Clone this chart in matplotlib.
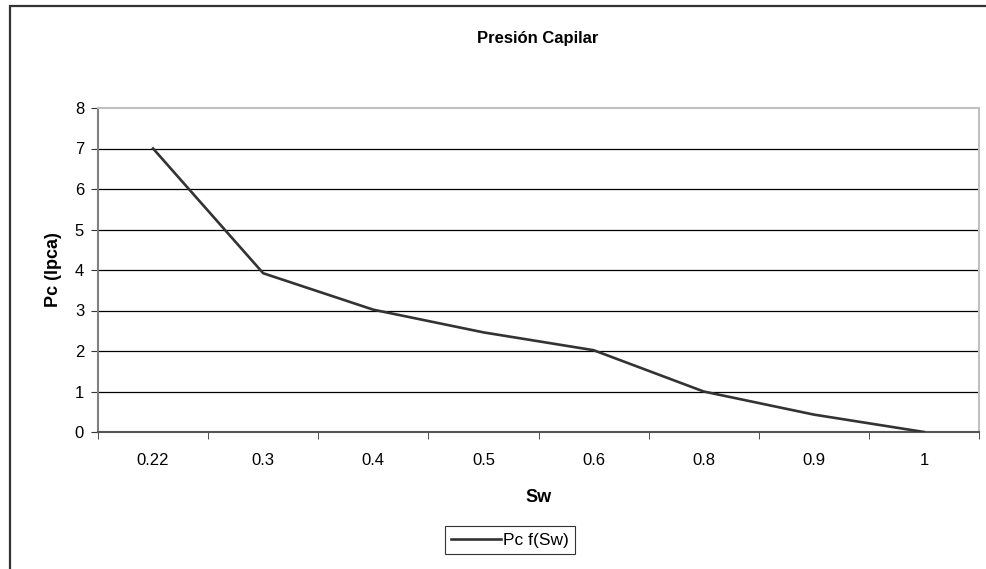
import numpy as np
from matplotlib import pylab as plt
from matplotlib.patches import Rectangle

sw_labels = ["0.22", "0.3", "0.4", "0.5", "0.6", "0.8", "0.9", "1"]
pc_values = [7.0, 3.92, 3.02, 2.46, 2.02, 1.0, 0.43, 0.0]
y_ticks = [0, 1, 2, 3, 4, 5, 6, 7, 8]

plt.rcParams['font.family'] = ['Liberation Sans', 'DejaVu Sans']

fig = plt.figure(figsize=(9.87, 5.69), dpi=100)
ax = fig.add_axes([98 / 987, 1 - 432 / 569, 881 / 987, 324 / 569])

x = np.arange(len(sw_labels))
ax.plot(x, pc_values, color='#333333', lw=1.9, label='Pc f(Sw)', zorder=3)

ax.set_xlim(-0.5, len(sw_labels) - 0.5)
ax.set_ylim(0, 8)
ax.set_yticks(y_ticks)
ax.set_xticks(x)
ax.set_xticklabels(sw_labels)
ax.set_xticks(np.arange(-0.5, len(sw_labels)), minor=True)
ax.tick_params(axis='x', which='major', length=0, pad=15, labelsize=12)
ax.tick_params(axis='x', which='minor', length=5, direction='out', color='#333333')
ax.tick_params(axis='y', length=5, direction='out', color='#333333', labelsize=12, pad=5)

for v in y_ticks[1:-1]:
    ax.axhline(v, color='black', lw=0.9, zorder=1)

ax.spines['left'].set_color('#808080')
ax.spines['bottom'].set_color('#555555')
ax.spines['top'].set_color('#c0c0c0')
ax.spines['right'].set_color('#c0c0c0')
for s in ax.spines.values():
    s.set_linewidth(1.5)

ax.set_xlabel("Sw", fontsize=13, fontweight='bold', labelpad=15)
ax.set_ylabel("Pc (lpca)", fontsize=13, fontweight='bold', labelpad=9)
fig.text(538 / 987, 1 - 38 / 569, "Presión Capilar", ha='center', va='center',
         fontsize=12, fontweight='bold')

leg = ax.legend(loc='center', bbox_to_anchor=(510 / 987, 1 - 540 / 569),
                bbox_transform=fig.transFigure, frameon=True, fancybox=False,
                fontsize=12.5, handlelength=2.9, handletextpad=0.1,
                borderpad=0.35, borderaxespad=0)
leg.get_frame().set_edgecolor('black')
leg.get_frame().set_linewidth(0.8)

fig.patches.append(Rectangle((9.5 / 987, -0.1), 1.2, 1.1 - 6 / 569,
                             transform=fig.transFigure, fill=False,
                             edgecolor='#333333', lw=1.6))

plt.savefig('out.png', dpi=100)
